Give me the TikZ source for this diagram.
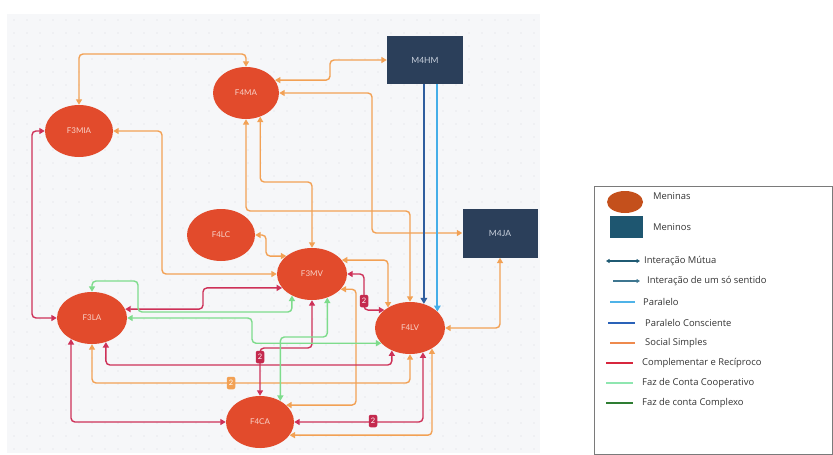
\documentclass[tikz,border=0pt]{standalone}
\usepackage{fontspec}
\setmainfont{Lato}
\newfontfamily\legendfont{Open Sans}
\usetikzlibrary{arrows.meta,shapes.geometric,calc}
\definecolor{bgc}{HTML}{F6F7F9}
\definecolor{dotc}{HTML}{DADDE3}
\definecolor{girlc}{HTML}{E24B2C}
\definecolor{boyc}{HTML}{2B3F5A}
\definecolor{orc}{HTML}{F2A155}
\definecolor{rdc}{HTML}{CE3158}
\definecolor{tagrd}{HTML}{C42A4E}
\definecolor{grc}{HTML}{7EDC8C}
\definecolor{dbc}{HTML}{2F5E9E}
\definecolor{lbc}{HTML}{45AEE8}
\definecolor{girltxt}{HTML}{F8D2C8}
\definecolor{boytxt}{HTML}{C9D1DD}
\definecolor{legGirl}{HTML}{C4501C}
\definecolor{legBoy}{HTML}{1E5670}
\definecolor{legTeal}{HTML}{1F5A73}
\definecolor{legTealB}{HTML}{3E7690}
\definecolor{legPar}{HTML}{4FB3E8}
\definecolor{legParC}{HTML}{2A62B8}
\definecolor{legSoc}{HTML}{EE8A4E}
\definecolor{legComp}{HTML}{D7263D}
\definecolor{legFaz}{HTML}{8FE6B0}
\definecolor{legFazC}{HTML}{2E7D32}
\definecolor{legtxt}{HTML}{333333}
\definecolor{legborder}{HTML}{7A7A7A}
\begin{document}
\begin{tikzpicture}[x=1pt,y=-1pt,
  girl/.style={ellipse, fill=girlc, inner sep=0pt, minimum height=52pt, text=girltxt, font=\fontsize{8}{9}\selectfont},
  boy/.style={rectangle, fill=boyc, inner sep=0pt, text=boytxt, font=\fontsize{8.5}{9}\selectfont},
  link/.style={line width=1.4pt, rounded corners=4pt},
  og/.style={link, draw=orc},
  rd/.style={link, draw=rdc},
  gr/.style={link, draw=grc},
  dbl/.style={line width=1.9pt, draw=dbc},
  lbl/.style={line width=1.9pt, draw=lbc},
  bi/.style={{Triangle[length=5.5pt,width=6pt]}-{Triangle[length=5.5pt,width=6pt]}},
  uni/.style={-{Triangle[length=6pt,width=6.5pt]}},
  tag/.style={rounded corners=2pt, inner sep=0pt, minimum width=8.5pt, minimum height=12.5pt, text=white, font=\fontsize{7.5}{8}\selectfont},
  leg/.style={anchor=west, text=legtxt, font=\legendfont\fontsize{9.4}{10}\selectfont, inner sep=0pt}
]
\useasboundingbox (0,0) rectangle (833,455);
% background with dot grid
\fill[bgc] (7,14) rectangle (540,453);
\foreach \i in {0,...,40} {
  \foreach \j in {0,...,33} {
    \fill[dotc] ({14+13*\i},{20+13*\j}) circle[radius=0.7pt];
  }
}
% nodes
\node[girl, minimum width=66pt] (F4MA) at (246,93) {F4MA};
\node[girl, minimum width=68pt] (F3MIA) at (79,131) {F3MIA};
\node[girl, minimum width=68pt] (F4LC) at (221,235) {F4LC};
\node[girl, minimum width=70pt] (F3MV) at (312,274) {F3MV};
\node[girl, minimum width=70pt] (F3LA) at (92,318) {F3LA};
\node[girl, minimum width=70pt] (F4LV) at (410,328) {F4LV};
\node[girl, minimum width=68pt] (F4CA) at (260,422) {F4CA};
\node[boy, minimum width=76pt, minimum height=48pt] (M4HM) at (425,60) {M4HM};
\node[boy, minimum width=75pt, minimum height=49pt] (M4JA) at (500,233) {M4JA};
% Social simples (orange)
\draw[og,bi] (F3MIA.north) |- (160,54) -| (F4MA.north);
\draw[og,bi] (F4MA.24) -| (330,70) |- (M4HM.west);
\draw[og,bi] (F4MA.east) -| (372,160) |- (M4JA.west);
\draw[og,bi] (F4MA.-59) |- (290,182) -| (F3MV.north);
\draw[og,bi] (F4MA.south) |- (330,211) -| (F4LV.north);
\draw[og,bi] (F3MIA.east) -| (162,200) |- (F3MV.west);
\draw[og,bi] (F4LC.east) -| (266,245) |- (F3MV.145);
\draw[og,bi] (F3MV.25) -| (F4LV.137);
\draw[og,bi] (F3MV.-28) -| (356,350) |- (F4CA.33);
\draw[og,bi] (F3LA.south) |- (250,383) -| (F4LV.south);
\draw[og,bi] (F4CA.-24) -| (F4LV.-43);
\draw[og,bi] (F4LV.east) -| (M4JA.south);
% Complementar e reciproco (red)
\draw[rd,bi] (F3MIA.west) -| (32,200) |- (F3LA.west);
\draw[rd,bi] (F3LA.15) -| (203,300) |- (F3MV.205);
\draw[rd,bi] (F3LA.-60) |- (200,365) -| (F4LV.-129);
\draw[rd,bi] (F3LA.-135) |- (F4CA.west);
\draw[rd,bi] (F4CA.east) -| (F4LV.-62);
\draw[rd,bi] (F3MV.east) -| (364,290) |- (F4LV.145);
\draw[rd,bi] (F3MV.south) |- (280,348) -| (F4CA.north);
% Faz de conta cooperativo (green)
\draw[gr,bi] (F3LA.north) |- (115,281) -| (138,312) -| (F3MV.-133);
\draw[gr,bi] (F3LA.east) -| (252,330) |- (F4LV.208);
\draw[gr,bi] (F3MV.-57) |- (300,337) -| (F4CA.46);
% Paralelo (blue)
\draw[dbl,uni] (M4HM.south -| F4LV.60) -- (F4LV.60);
\draw[lbl,uni] (M4HM.south -| F4LV.31) -- (F4LV.31);
% count tags
\node[tag, fill=tagrd] at (364,301) {2};
\node[tag, fill=tagrd] at (260,357) {2};
\node[tag, fill=orc] at (231,383) {2};
\node[tag, fill=tagrd] at (373,421) {2};
% legend
\draw[legborder, line width=0.8pt] (594,186) rectangle (832,454);
\node[ellipse, fill=legGirl, minimum width=36pt, minimum height=22pt, inner sep=0pt] (lgGirl) at (625,202) {};
\node[leg] at (653,196) {Meninas};
\node[rectangle, fill=legBoy, minimum width=33pt, minimum height=22pt, inner sep=0pt] (lgBoy) at (626.5,227) {};
\node[leg] at (653,227) {Meninos};
\draw[legTeal, line width=1.2pt, {Triangle[length=3.5pt,width=4pt]}-{Triangle[length=3.5pt,width=4pt]}] (606,261) -- (640,261);
\node[leg] at (644,261) {Interação Mútua};
\draw[legTealB, line width=1.1pt, -{Triangle[length=3.5pt,width=4pt]}] (613,281) -- (640,281);
\node[leg] at (647,281) {Interação de um só sentido};
\draw[legPar, line width=1.4pt] (610,302) -- (635,302);
\node[leg] at (643,302) {Paralelo};
\draw[legParC, line width=1.4pt] (608,323) -- (635,323);
\node[leg] at (645,323) {Paralelo Consciente};
\draw[legSoc, line width=1.4pt] (610,343) -- (635,343);
\node[leg] at (645,343) {Social Simples};
\draw[legComp, line width=1.4pt] (606,363) -- (633,363);
\node[leg] at (642,363) {Complementar e Recíproco};
\draw[legFaz, line width=1.4pt] (606,383) -- (633,383);
\node[leg] at (642,383) {Faz de Conta Cooperativo};
\draw[legFazC, line width=1.4pt] (606,403) -- (633,403);
\node[leg] at (642,403) {Faz de conta Complexo};
\end{tikzpicture}
\end{document}
